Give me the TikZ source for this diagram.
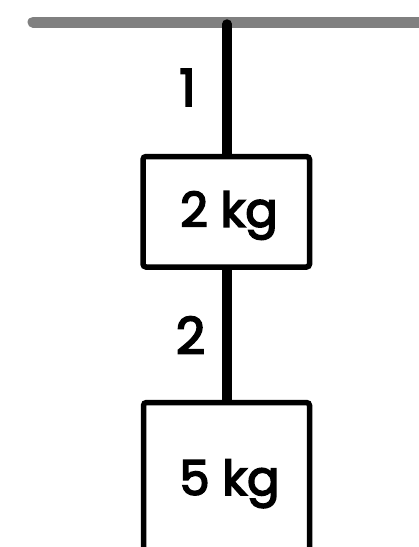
\documentclass[tikz,border=0pt]{standalone}
\usepackage{fontspec}
\setmainfont{Poppins}
\newfontfamily\medfont{Poppins}[BoldFont={Poppins}, BoldFeatures={FakeBold=3.5}]
\begin{document}
\begin{tikzpicture}[x=1pt,y=-1pt,
  ceil/.style={line width=11pt,color=black!50,line cap=round},
  rope/.style={line width=9.5pt,color=black,line cap=round},
  mass/.style={draw=black,line width=5.5pt,rounded corners=3pt,fill=white},
  lbl/.style={font=\fontsize{51}{55}\medfont\bfseries,text=black,inner sep=0pt,anchor=base},
  masslbl/.style={font=\fontsize{48}{52}\medfont\bfseries,text=black,inner sep=0pt,anchor=base}]
\useasboundingbox (0,0) rectangle (419,547);
\begin{scope}
\clip (0,0) rectangle (419,547);
\coordinate (ceilL) at (33,22);
\coordinate (ceilR) at (440,22);
\draw[ceil] (ceilL) -- (ceilR);
\coordinate (hook) at (227,24);
\coordinate (b1t) at (227,157);
\coordinate (b1b) at (227,267);
\coordinate (b2t) at (227,403);
\draw[rope] (hook) -- (b1t);
\draw[rope,line cap=butt] (b1b) -- (b2t);
\draw[mass] (143,156.5) rectangle (309.5,267);
\draw[mass] (143.5,402.5) rectangle (309.5,620);
\node[masslbl] (m1) at (229,226.7) {2 kg};
\node[masslbl] (m2) at (229.5,495) {5 kg};
\node[lbl] (r1) at (187.5,106) {1};
\node[lbl] (r2) at (190.5,354) {2};
\end{scope}
\end{tikzpicture}
\end{document}
